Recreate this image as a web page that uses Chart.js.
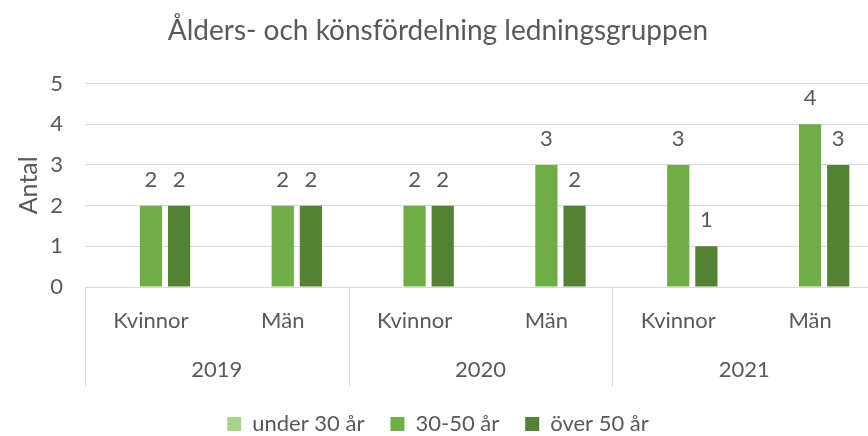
<!DOCTYPE html>
<html>
<head>
<meta charset="utf-8">
<script src="https://cdn.jsdelivr.net/npm/chart.js@4"></script>
<style>
  html, body { margin: 0; padding: 0; background: #fff; overflow: hidden; }
  #wrap { width: 876px; height: 436px; }
</style>
</head>
<body>
<div id="wrap"><canvas id="myChart" width="876" height="436"></canvas></div>
<script>
var kategorier = ['Kvinnor', 'Män', 'Kvinnor', 'Män', 'Kvinnor', 'Män'];
var ar = ['2019', '2020', '2021'];
var under30 = [0, 0, 0, 0, 0, 0];
var mellan30och50 = [2, 2, 2, 3, 3, 4];
var over50 = [2, 2, 2, 2, 1, 3];
var yTicks = [0, 1, 2, 3, 4, 5];

var FONT = 'Lato';
var GRA = '#595959';

// siffror ovanför staplarna
var etiketter = {
    id: 'etiketter',
    afterDatasetsDraw: function(chart) {
        var ctx = chart.ctx;
        ctx.save();
        ctx.font = '22px ' + FONT;
        ctx.fillStyle = GRA;
        ctx.textAlign = 'center';
        ctx.textBaseline = 'alphabetic';
        chart.data.datasets.forEach(function(ds, i) {
            var meta = chart.getDatasetMeta(i);
            meta.data.forEach(function(bar, j) {
                if (!ds.data[j]) return;
                ctx.fillText(ds.data[j], bar.x, bar.y - 19);
            });
        });
        ctx.restore();
    }
};

// linjer mellan åren
var avdelare = {
    id: 'avdelare',
    afterDraw: function(chart) {
        var x2 = chart.scales.x2;
        var ctx = chart.ctx;
        ctx.save();
        ctx.strokeStyle = '#D9D9D9';
        ctx.lineWidth = 1;
        for (var i = 0; i <= ar.length; i++) {
            var px = Math.round(x2.left + i * x2.width / ar.length) + 0.5;
            ctx.beginPath();
            ctx.moveTo(px, chart.chartArea.bottom);
            ctx.lineTo(px, x2.bottom);
            ctx.stroke();
        }
        ctx.restore();
    }
};

var canvas = document.getElementById('myChart').getContext('2d');
var chart = new Chart(canvas, {
    type: 'bar',
    data: {
        labels: kategorier,
        datasets: [
            { label: 'under 30 år', data: under30, backgroundColor: '#A9D18E' },
            { label: '30-50 år', data: mellan30och50, backgroundColor: '#70AD47' },
            { label: 'över 50 år', data: over50, backgroundColor: '#548235' }
        ]
    },
    options: {
        responsive: false,
        animation: false,
        categoryPercentage: 0.64,
        barPercentage: 0.79,
        layout: { padding: { left: 0, right: 0, top: 0, bottom: -9 } },
        plugins: {
            title: {
                display: true,
                text: 'Ålders- och könsfördelning ledningsgruppen',
                color: GRA,
                font: { family: FONT, size: 28, weight: 'normal' },
                padding: { top: 14, bottom: 36 }
            },
            legend: {
                position: 'bottom',
                labels: {
                    color: GRA,
                    font: { family: FONT, size: 22 },
                    boxWidth: 14,
                    boxHeight: 14,
                    padding: 26
                }
            },
            tooltip: { enabled: false }
        },
        scales: {
            x: {
                grid: { display: false },
                border: { display: true, color: '#D9D9D9' },
                ticks: { color: GRA, font: { family: FONT, size: 22 }, padding: 13 },
                afterFit: function(s) { s.height = 50; }
            },
            x2: {
                type: 'category',
                labels: ar,
                offset: true,
                grid: { display: false },
                border: { display: false },
                ticks: { color: GRA, font: { family: FONT, size: 22 }, padding: 12 },
                afterFit: function(s) { s.height = 50; }
            },
            y: {
                min: 0,
                max: 5,
                afterBuildTicks: function(s) {
                    s.ticks = yTicks.map(function(v) { return { value: v }; });
                },
                grid: { color: '#D9D9D9', drawTicks: false },
                border: { display: false },
                ticks: { color: GRA, font: { family: FONT, size: 22 }, padding: 22 },
                title: {
                    display: true,
                    text: 'Antal',
                    color: GRA,
                    font: { family: FONT, size: 25 },
                    padding: { top: 14, bottom: 0 }
                },
                afterFit: function(s) { s.width = 85; }
            }
        }
    },
    plugins: [etiketter, avdelare]
});
</script>
</body>
</html>
